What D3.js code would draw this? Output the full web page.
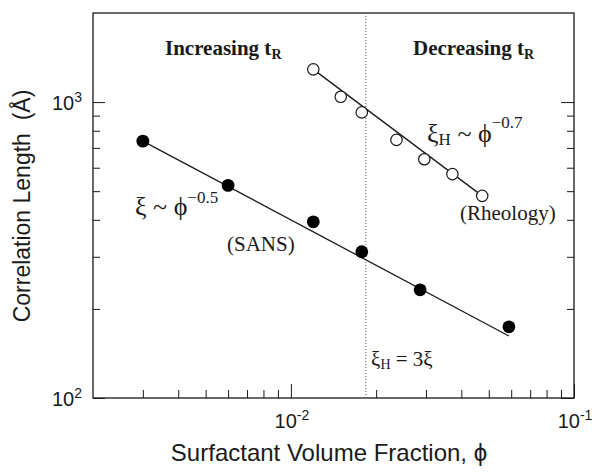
<!DOCTYPE html>
<html>
<head>
<meta charset="utf-8">
<script src="https://cdn.jsdelivr.net/npm/d3@7"></script>
<style>
  html, body { margin: 0; padding: 0; background: #fff; }
  svg { display: block; }
</style>
</head>
<body>
<svg id="chart" width="592" height="472"></svg>
<script>
// ---- data ----
const sansPhi = [0.003, 0.006, 0.012, 0.0178, 0.0286, 0.0589];
const sansXi  = [738, 523, 394, 312, 232, 174];
const rheoPhi = [0.012, 0.015, 0.0178, 0.0236, 0.0296, 0.0372, 0.0474];
const rheoXi  = [1290, 1042, 923, 745, 641, 571, 482];
const sansFitPhi = [0.003, 0.0589];
const sansFitXi  = [738, 162];
const rheoFitPhi = [0.012, 0.0474];
const rheoFitXi  = [1290, 482];
const crossoverPhi = 0.0184;
const xDomain = [0.002, 0.1];
const yDomain = [100, 2000];
const xMajorTicks = [0.01, 0.1];
const xMajorLabels = [["10", "-2"], ["10", "-1"]];
const xMinorTicks = [0.003, 0.004, 0.005, 0.006, 0.007, 0.008, 0.009, 0.02, 0.03, 0.04, 0.05, 0.06, 0.07, 0.08, 0.09];
const yMajorTicks = [100, 1000];
const yMajorLabels = [["10", "2"], ["10", "3"]];
const yMinorTicks = [200, 300, 400, 500, 600, 700, 800, 900];

// ---- layout ----
const L = 93, R = 574, T = 13, B = 398;
const ink = "#1a1a1a";
const sans = "'Liberation Sans', Arial, Helvetica, sans-serif";
const serif = "'Liberation Serif', 'Times New Roman', Times, serif";

const svg = d3.select("#chart");
const x = d3.scaleLog().domain(xDomain).range([L, R]);
const y = d3.scaleLog().domain(yDomain).range([B, T]);

function styleAxis(g) {
  g.select(".domain").remove();
  g.selectAll(".tick line").attr("stroke", ink).attr("stroke-width", 1);
  g.selectAll(".tick text").remove();
}

// ticks (inward)
svg.append("g").attr("transform", `translate(0,${B})`)
  .call(d3.axisBottom(x).tickValues(xMajorTicks).tickSize(-14).tickFormat(""))
  .call(styleAxis);
svg.append("g").attr("transform", `translate(0,${B})`)
  .call(d3.axisBottom(x).tickValues(xMinorTicks).tickSize(-8).tickFormat(""))
  .call(styleAxis);
svg.append("g").attr("transform", `translate(${L},0)`)
  .call(d3.axisLeft(y).tickValues(yMajorTicks).tickSize(-12).tickFormat(""))
  .call(styleAxis);
svg.append("g").attr("transform", `translate(${L},0)`)
  .call(d3.axisLeft(y).tickValues(yMinorTicks).tickSize(-7).tickFormat(""))
  .call(styleAxis);
svg.append("g").attr("transform", `translate(${R},0)`)
  .call(d3.axisRight(y).tickValues(yMajorTicks).tickSize(-13).tickFormat(""))
  .call(styleAxis);
svg.append("g").attr("transform", `translate(${R},0)`)
  .call(d3.axisRight(y).tickValues(yMinorTicks).tickSize(-7).tickFormat(""))
  .call(styleAxis);

// frame
svg.append("rect").attr("x", L).attr("y", T).attr("width", R - L).attr("height", B - T)
  .attr("fill", "none").attr("stroke", ink).attr("stroke-width", 1.3);

// tick labels
yMajorTicks.forEach((v, i) => {
  const t = svg.append("text").attr("x", 82).attr("y", y(v) + 8)
    .attr("text-anchor", "end").attr("font-family", sans).attr("font-size", 20).attr("fill", ink);
  t.append("tspan").text(yMajorLabels[i][0]);
  t.append("tspan").attr("dy", -8).attr("font-size", 14).text(yMajorLabels[i][1]);
});
xMajorTicks.forEach((v, i) => {
  const t = svg.append("text").attr("x", x(v) + 1).attr("y", 428)
    .attr("text-anchor", "middle").attr("font-family", sans).attr("font-size", 20).attr("fill", ink);
  t.append("tspan").text(xMajorLabels[i][0]);
  t.append("tspan").attr("dy", -8).attr("font-size", 14).text(xMajorLabels[i][1]);
});

// axis titles
svg.append("text").attr("x", 329).attr("y", 461).attr("text-anchor", "middle")
  .attr("font-family", sans).attr("font-size", 24).attr("fill", ink)
  .text("Surfactant Volume Fraction, \u03D5");
svg.append("text").attr("transform", "translate(30,206) rotate(-90)").attr("text-anchor", "middle")
  .attr("font-family", sans).attr("font-size", 23).attr("fill", ink)
  .attr("xml:space", "preserve").style("white-space", "pre")
  .text("Correlation Length  (\u00C5)");

// crossover dotted line
svg.append("line").attr("x1", x(crossoverPhi)).attr("x2", x(crossoverPhi))
  .attr("y1", T).attr("y2", B).attr("stroke", "#555").attr("stroke-width", 1)
  .attr("stroke-dasharray", "1,2");

// fit lines
const line = d3.line().x(d => x(d[0])).y(d => y(d[1]));
svg.append("path").datum(d3.zip(sansFitPhi, sansFitXi)).attr("d", line)
  .attr("fill", "none").attr("stroke", ink).attr("stroke-width", 1.3);
svg.append("path").datum(d3.zip(rheoFitPhi, rheoFitXi)).attr("d", line)
  .attr("fill", "none").attr("stroke", ink).attr("stroke-width", 1.3);

// points
svg.append("g").selectAll("circle").data(d3.zip(sansPhi, sansXi)).join("circle")
  .attr("cx", d => x(d[0])).attr("cy", d => y(d[1])).attr("r", 6.4).attr("fill", "#000");
svg.append("g").selectAll("circle").data(d3.zip(rheoPhi, rheoXi)).join("circle")
  .attr("cx", d => x(d[0])).attr("cy", d => y(d[1])).attr("r", 5.7)
  .attr("fill", "#fff").attr("stroke", ink).attr("stroke-width", 1.2);

// annotations
function regionLabel(xp, yp, word) {
  const t = svg.append("text").attr("x", xp).attr("y", yp).attr("font-family", serif)
    .attr("font-weight", "bold").attr("font-size", 21).attr("fill", ink);
  t.append("tspan").text(word + " t");
  t.append("tspan").attr("dy", 4).attr("font-size", 14).text("R");
}
regionLabel(165, 55, "Increasing");
regionLabel(413, 55, "Decreasing");

let t = svg.append("text").attr("x", 135).attr("y", 215).attr("font-family", serif)
  .attr("font-size", 26).attr("fill", ink);
t.append("tspan").text("\u03BE ~ \u03D5");
t.append("tspan").attr("dy", -12).attr("font-size", 17).text("\u22120.5");

svg.append("text").attr("x", 227).attr("y", 251).attr("font-family", serif)
  .attr("font-size", 21).attr("fill", ink).text("(SANS)");

t = svg.append("text").attr("x", 427).attr("y", 142).attr("font-family", serif)
  .attr("font-size", 26).attr("fill", ink);
t.append("tspan").text("\u03BE");
t.append("tspan").attr("dy", 3).attr("font-size", 17).text("H");
t.append("tspan").attr("dy", -3).text(" ~ \u03D5");
t.append("tspan").attr("dy", -14).attr("font-size", 17).text("\u22120.7");

svg.append("text").attr("x", 460).attr("y", 220).attr("font-family", serif)
  .attr("font-size", 21).attr("fill", ink).text("(Rheology)");

t = svg.append("text").attr("x", 371).attr("y", 366).attr("font-family", serif)
  .attr("font-size", 21).attr("fill", ink);
t.append("tspan").text("\u03BE");
t.append("tspan").attr("dy", 3).attr("font-size", 14).text("H");
t.append("tspan").attr("dy", -3).text(" = 3\u03BE");
</script>
</body>
</html>
